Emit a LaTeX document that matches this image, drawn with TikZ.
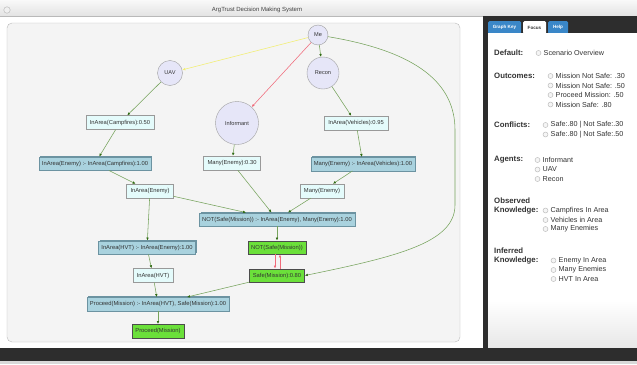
\documentclass[tikz,border=0pt]{standalone}
\usepackage{fontspec}
\setmainfont{Liberation Sans}
\usetikzlibrary{arrows.meta,shadows}

\definecolor{factfill}{HTML}{E4FBFB}
\definecolor{rulefill}{HTML}{A9D2DE}
\definecolor{ruleside}{HTML}{6C93A1}
\definecolor{goalfill}{HTML}{6BE03A}
\definecolor{agentfill}{HTML}{E6E6F8}
\definecolor{edgegreen}{HTML}{76A35C}
\definecolor{tipgreen}{HTML}{2F6A12}
\definecolor{trustred}{HTML}{F06A7A}
\definecolor{trustyellow}{HTML}{F2EE70}
\definecolor{tabblue}{HTML}{3A87C8}
\definecolor{panelbg}{HTML}{F4F4F4}
\definecolor{darkbar}{HTML}{2D2D2D}
\definecolor{inktext}{HTML}{333333}

\newcommand\graphfont{\fontsize{5.8}{7}\selectfont}

\tikzset{
    agent/.style={circle,draw=gray!75,fill=agentfill,inner sep=0,text=inktext,font=\fontsize{5.6}{6}\selectfont},
    fact/.style={draw=gray!80,fill=factfill,inner xsep=4pt,inner ysep=0,minimum height=14pt,text=inktext,font=\graphfont},
    rule/.style={draw=ruleside,fill=rulefill,inner xsep=3pt,inner ysep=0,minimum height=13.5pt,text=inktext,font=\graphfont,
        general shadow={shadow xshift=1.3pt,shadow yshift=1pt,fill=ruleside}},
    goal/.style={draw=gray!60!black,fill=goalfill,inner xsep=3.5pt,inner ysep=0,minimum height=13.5pt,text=inktext,font=\graphfont},
    edge/.style={draw=edgegreen,line width=0.55pt,-{Latex[length=3pt,width=2.6pt,color=tipgreen]}},
    trust/.style={line width=0.55pt,-{Latex[length=3pt,width=2.6pt]}},
    heading/.style={anchor=west,inner sep=0,text=inktext,font=\bfseries\fontsize{7.8}{9}\selectfont},
    option/.style={anchor=west,inner sep=0,text=inktext,font=\fontsize{7.2}{8}\selectfont},
    radio/.style={circle,draw=gray!60,fill=gray!8,minimum size=5pt,inner sep=0},
    tab/.style={rounded corners=1.5pt,minimum height=13pt,inner sep=0,font=\bfseries\fontsize{4.6}{5}\selectfont}
}

\begin{document}
\begin{tikzpicture}[x=1pt,y=-1pt]
    \useasboundingbox (0,0) rectangle (637,364);

    % window frame
    \fill[white] (0,0) rectangle (637,364);
    \shade[top color=gray!5,bottom color=gray!22] (0,0) rectangle (637,16);
    \draw[gray!55] (0,16) -- (637,16);
    \node[circle,draw=gray!60,fill=gray!12,minimum size=6.5pt,inner sep=0] (closebtn) at (7,10) {};
    \node[text=gray!50!black,font=\fontsize{6}{7}\selectfont] (title) at (257,10) {ArgTrust Decision Making System};
    \fill[darkbar] (0,348) rectangle (637,361);
    \fill[gray!30] (0,361) rectangle (637,364);

    % graph panel
    \draw[gray!55,fill=panelbg,rounded corners=5pt] (7,23) rectangle (460,342);

    % focus panel
    \fill[darkbar] (483,16) rectangle (637,348);
    \node[tab,fill=tabblue,text=white,minimum width=33pt] (graphkey) at (504.5,27.5) {Graph Key};
    \node[tab,fill=white,text=inktext,minimum width=23pt] (focus) at (534.5,27.5) {Focus};
    \node[tab,fill=tabblue,text=white,minimum width=20pt] (help) at (558,27.5) {Help};
    \fill[white] (488,33) rectangle (637,300);
    \shade[top color=white,bottom color=gray!18] (488,300) rectangle (637,347);

    \node[heading] (default) at (494,53) {Default:};
    \node[radio] (dr) at (538.5,53) {};
    \node[option] (dt) at (543.5,53) {Scenario Overview};

    \node[heading] (outcomes) at (494,76) {Outcomes:};
    \foreach \y/\t [count=\i] in {76/Mission Not Safe: .30,85.5/Mission Not Safe: .50,95/Proceed Mission: .50,104.5/Mission Safe: .80}{
        \node[radio] (or\i) at (550.5,\y) {};
        \node[option] (ot\i) at (555.5,\y) {\t};
    }

    \node[heading] (conflicts) at (494,125) {Conflicts:};
    \foreach \y/\t [count=\i] in {125/Safe:.80 | Not Safe:.30,134.5/Safe:.80 | Not Safe:.50}{
        \node[radio] (cr\i) at (545.5,\y) {};
        \node[option] (ct\i) at (550.5,\y) {\t};
    }

    \node[heading] (agents) at (494,160) {Agents:};
    \foreach \y/\t [count=\i] in {160/Informant,169.5/UAV,179/Recon}{
        \node[radio] (ar\i) at (537.5,\y) {};
        \node[option] (at\i) at (542.5,\y) {\t};
    }

    \node[heading] (observed) at (494,201) {Observed};
    \node[heading] (obsknow) at (494,210.5) {Knowledge:};
    \foreach \y/\t [count=\i] in {210.5/Campfires In Area,220/Vehicles in Area,229/Many Enemies}{
        \node[radio] (kr\i) at (545.5,\y) {};
        \node[option] (kt\i) at (550.5,\y) {\t};
    }

    \node[heading] (inferred) at (494,251) {Inferred};
    \node[heading] (infknow) at (494,260.5) {Knowledge:};
    \foreach \y/\t [count=\i] in {260.5/Enemy In Area,270/Many Enemies,279/HVT In Area}{
        \node[radio] (ir\i) at (553.5,\y) {};
        \node[option] (it\i) at (558.5,\y) {\t};
    }

    % agents
    \node[agent,minimum size=20pt] (me) at (318,35) {Me};
    \node[agent,minimum size=25pt] (uav) at (170,73) {UAV};
    \node[agent,minimum size=32pt] (recon) at (323,73) {Recon};
    \node[agent,minimum size=43pt] (informant) at (237,123) {Informant};

    % beliefs and rules
    \node[fact] (campfires) at (120,122.5) {InArea(Campfires):0.50};
    \node[fact] (vehicles) at (356,123) {InArea(Vehicles):0.95};
    \node[rule] (enemyrule) at (95,163.5) {InArea(Enemy) :- InArea(Campfires):1.00};
    \node[fact] (many30) at (232,163) {Many(Enemy):0.30};
    \node[rule] (manyrule) at (363,164) {Many(Enemy) :- InArea(Vehicles):1.00};
    \node[fact] (enemy) at (150,191) {InArea(Enemy)};
    \node[fact] (many) at (322,191) {Many(Enemy)};
    \node[rule] (notrule) at (277,219.5) {NOT(Safe(Mission)) :- InArea(Enemy), Many(Enemy):1.00};
    \node[rule] (hvtrule) at (147,247.5) {InArea(HVT) :- InArea(Enemy):1.00};
    \node[goal] (notsafe) at (277,247.5) {NOT(Safe(Mission))};
    \node[fact] (hvt) at (153,275.5) {InArea(HVT)};
    \node[goal] (safe) at (277,275.5) {Safe(Mission):0.80};
    \node[rule] (proceedrule) at (158,304) {Proceed(Mission) :- InArea(HVT), Safe(Mission):1.00};
    \node[goal] (proceed) at (158,331) {Proceed(Mission)};

    % trust links
    \draw[trust,draw=trustyellow] (me) -- (uav);
    \draw[trust,draw=trustred] (me) -- (informant);
    \draw[edge] (me) -- (recon);
    \draw[edge] (me) .. controls (420,52) and (455,85) .. (455,130) -- (455,205) .. controls (455,242) and (400,256) .. (safe.east);

    % argument links
    \draw[edge] (uav) -- (campfires);
    \draw[edge] (campfires) -- (enemyrule);
    \draw[edge] (enemyrule) -- (enemy);
    \draw[edge] (enemy) -- (notrule);
    \draw[edge] (enemy) -- (hvtrule);
    \draw[edge] (informant) -- (many30);
    \draw[edge] (many30) -- (notrule);
    \draw[edge] (recon) -- (vehicles);
    \draw[edge] (vehicles) -- (manyrule);
    \draw[edge] (manyrule) -- (many);
    \draw[edge] (many) -- (notrule);
    \draw[edge] (notrule) -- (notsafe);
    \draw[trust,draw=trustred] ([xshift=-2pt]notsafe.south) -- ([xshift=-2pt]safe.north);
    \draw[trust,draw=trustred] ([xshift=3pt]safe.north) -- ([xshift=3pt]notsafe.south);
    \draw[edge] (safe) -- (proceedrule);
    \draw[edge] (hvtrule) -- (hvt);
    \draw[edge] (hvt) -- (proceedrule);
    \draw[edge] (proceedrule) -- (proceed);
\end{tikzpicture}
\end{document}
